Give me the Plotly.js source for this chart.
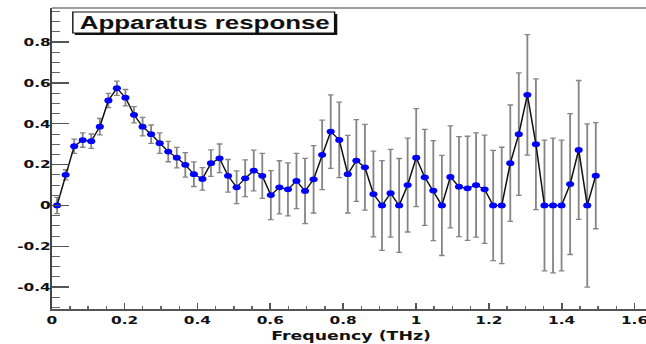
<!DOCTYPE html>
<html>
<head>
<meta charset="utf-8">
<script src="https://cdn.plot.ly/plotly-3.0.1.min.js"></script>
<style>
  html, body { margin: 0; padding: 0; background: #ffffff; overflow: hidden; }
  #chart { width: 462px; height: 344px; transform: scaleX(1.39827); transform-origin: 0 0; }
</style>
</head>
<body>
<div id="chart"></div>
<script>
// Frequency (THz) of each measured point
var frequency = [
  0.0146, 0.0381, 0.0616, 0.0850, 0.1085, 0.1320, 0.1555, 0.1789, 0.2024, 0.2259,
  0.2494, 0.2728, 0.2963, 0.3198, 0.3433, 0.3667, 0.3902, 0.4137, 0.4372, 0.4607,
  0.4841, 0.5076, 0.5311, 0.5546, 0.5780, 0.6015, 0.6250, 0.6485, 0.6719, 0.6954,
  0.7189, 0.7424, 0.7659, 0.7893, 0.8128, 0.8363, 0.8598, 0.8832, 0.9067, 0.9302,
  0.9537, 0.9771, 1.0006, 1.0241, 1.0476, 1.0711, 1.0945, 1.1180, 1.1415, 1.1650,
  1.1884, 1.2119, 1.2354, 1.2589, 1.2823, 1.3058, 1.3293, 1.3528, 1.3763, 1.3997,
  1.4232, 1.4467, 1.4702, 1.4936
];
// Apparatus response values
var response = [
  0.000, 0.150, 0.290, 0.320, 0.315, 0.386, 0.514, 0.574, 0.528, 0.444,
  0.386, 0.349, 0.305, 0.264, 0.234, 0.199, 0.153, 0.130, 0.207, 0.231,
  0.145, 0.089, 0.133, 0.171, 0.145, 0.051, 0.089, 0.079, 0.120, 0.071,
  0.128, 0.248, 0.362, 0.321, 0.153, 0.220, 0.187, 0.056, 0.000, 0.060,
  0.000, 0.100, 0.234, 0.138, 0.073, 0.000, 0.140, 0.092, 0.084, 0.100,
  0.079, 0.000, 0.000, 0.207, 0.349, 0.542, 0.300, 0.000, 0.000, 0.000,
  0.105, 0.272, 0.000, 0.146
];
// Symmetric error bars
var responseError = [
  0.040, 0.025, 0.035, 0.035, 0.035, 0.040, 0.035, 0.035, 0.040, 0.040,
  0.045, 0.045, 0.050, 0.050, 0.050, 0.060, 0.060, 0.055, 0.065, 0.070,
  0.080, 0.080, 0.090, 0.100, 0.110, 0.120, 0.130, 0.130, 0.135, 0.160,
  0.165, 0.170, 0.180, 0.185, 0.190, 0.200, 0.210, 0.210, 0.220, 0.215,
  0.230, 0.230, 0.240, 0.235, 0.245, 0.245, 0.250, 0.245, 0.255, 0.255,
  0.265, 0.270, 0.285, 0.285, 0.300, 0.295, 0.320, 0.320, 0.330, 0.320,
  0.345, 0.340, 0.400, 0.260
];
var xTickValues = [0, 0.2, 0.4, 0.6, 0.8, 1, 1.2, 1.4, 1.6];
var xTickLabels = ["0", "0.2", "0.4", "0.6", "0.8", "1", "1.2", "1.4", "1.6"];
var yTickValues = [-0.4, -0.2, 0, 0.2, 0.4, 0.6, 0.8];
var yTickLabels = ["-0.4", "-0.2", "0", "0.2", "0.4", "0.6", "0.8"];
var chartTitle = "Apparatus response";
var xTitle = "Frequency (THz)";

var trace = {
  x: frequency,
  y: response,
  type: "scatter",
  mode: "lines+markers",
  line: { color: "#111111", width: 1.1 },
  marker: { color: "#0000ff", size: 5.8 },
  error_y: { type: "data", array: responseError, visible: true, color: "#858585", thickness: 1.3, width: 2 },
  hoverinfo: "skip"
};

var tickFont = { family: "DejaVu Sans", size: 11, color: "#111111", weight: "bold" };

var layout = {
  width: 462,
  height: 344,
  margin: { l: 37, r: 0, t: 8, b: 35, pad: 0 },
  paper_bgcolor: "#ffffff",
  plot_bgcolor: "#ffffff",
  showlegend: false,
  xaxis: {
    range: [0, 1.6315],
    tickmode: "array",
    tickvals: xTickValues,
    ticktext: xTickLabels,
    ticks: "inside",
    ticklen: 6,
    tickwidth: 1.3,
    tickcolor: "#555555",
    ticklabeloverflow: "allow",
    minor: { dtick: 0.05, ticks: "inside", ticklen: 3, tickwidth: 1, tickcolor: "#666666", showgrid: false },
    showgrid: false,
    zeroline: false,
    showline: true,
    linecolor: "#555555",
    linewidth: 1.5,
    tickfont: tickFont
  },
  yaxis: {
    range: [-0.507, 0.967],
    tickmode: "array",
    tickvals: yTickValues,
    ticktext: yTickLabels,
    ticks: "inside",
    ticklen: 12,
    tickwidth: 1.3,
    tickcolor: "#555555",
    ticklabelstandoff: -3,
    minor: { dtick: 0.05, ticks: "inside", ticklen: 6, tickwidth: 1, tickcolor: "#666666", showgrid: false },
    showgrid: false,
    zeroline: false,
    showline: true,
    linecolor: "#444444",
    linewidth: 1.5,
    tickfont: tickFont
  },
  shapes: [
    { type: "line", xref: "paper", yref: "paper", x0: 0, x1: 1, y0: 1, y1: 1,
      line: { color: "#a0a0a0", width: 2 } },
    { type: "rect", xref: "paper", yref: "paper", x0: 0.0388, x1: 0.4805, y0: 0.9103, y1: 0.9801,
      fillcolor: "#111111", line: { width: 0 } },
    { type: "rect", xref: "paper", yref: "paper", x0: 0.0355, x1: 0.476, y0: 0.9169, y1: 0.9867,
      fillcolor: "#ffffff", line: { color: "#111111", width: 1 } }
  ],
  annotations: [
    { text: "<b>" + chartTitle + "</b>", xref: "paper", yref: "paper", x: 0.258, y: 0.9518,
      xanchor: "center", yanchor: "middle", showarrow: false,
      font: { family: "Liberation Sans", size: 18.5, color: "#111111" } },
    { text: "<b>" + xTitle + "</b>", xref: "paper", yref: "paper", x: 0.5035, y: 0,
      xanchor: "center", yanchor: "top", yshift: -17, showarrow: false,
      font: { family: "DejaVu Sans", size: 12.4, color: "#111111" } }
  ]
};

Plotly.newPlot("chart", [trace], layout, { displayModeBar: false, staticPlot: true });
</script>
</body>
</html>
